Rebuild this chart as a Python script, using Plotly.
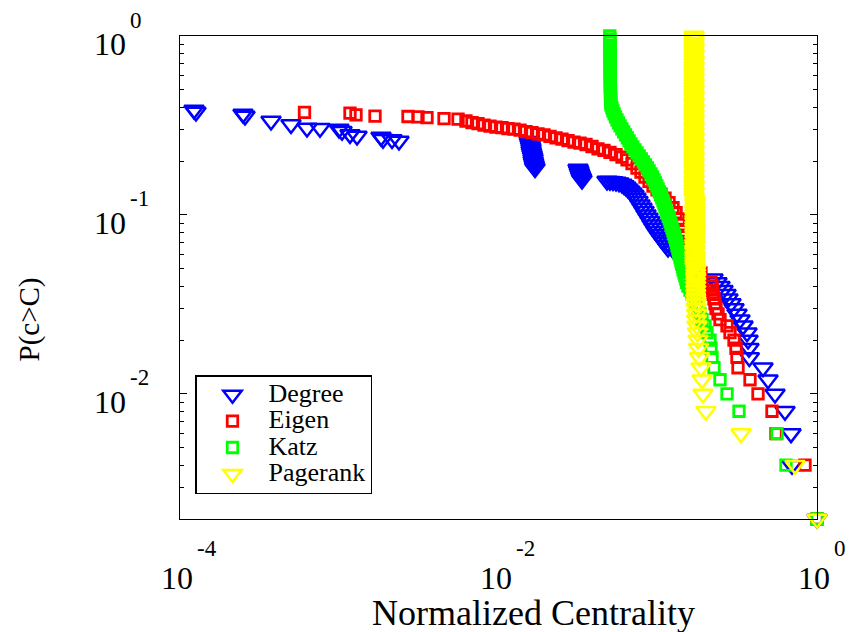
import math
import plotly.graph_objects as go

# ---------------- data ----------------
# Degree centrality CCDF
deg_x = [1.225e-4, 1.26e-4, 2.487e-4, 2.56e-4, 3.729e-4, 4.978e-4, 6.273e-4, 7.571e-4,
         9.96e-4, 1.041e-3, 1.168e-3, 1.293e-3, 1.829e-3, 1.883e-3, 2.144e-3, 2.372e-3,
         0.01555, 0.01566, 0.01578, 0.01589, 0.01601, 0.01601, 0.01612, 0.01624,
         0.01636, 0.01648, 0.01648, 0.01660, 0.01672, 0.01684, 0.01696,
         0.03157, 0.03189, 0.03217, 0.03250, 0.03283, 0.03312, 0.03345,
         0.04801, 0.05014, 0.05236, 0.05468, 0.05711, 0.05964, 0.06140, 0.06319,
         0.06504, 0.06695, 0.06892, 0.07094, 0.07302, 0.07516, 0.07737, 0.07964,
         0.08197, 0.08438, 0.08686, 0.08941, 0.09203, 0.09473, 0.09751, 0.1004,
         0.1033, 0.1063, 0.1095, 0.1127, 0.1160,
         0.1265, 0.1341, 0.1421, 0.1505, 0.1594, 0.1689,
         0.2223, 0.2355, 0.2460, 0.2569, 0.2683, 0.2761, 0.2884, 0.3012, 0.3146,
         0.3285, 0.3431, 0.3635, 0.369, 0.374, 0.376, 0.4582, 0.4926, 0.545,
         0.6295, 0.6866, 0.6966, 1.0]
deg_p = [0.386, 0.376, 0.367, 0.357, 0.335, 0.320, 0.306, 0.305,
         0.302, 0.294, 0.282, 0.276, 0.273, 0.265, 0.264, 0.259,
         0.2585, 0.2525, 0.2461, 0.2399, 0.2338, 0.2278, 0.2220, 0.2164,
         0.2109, 0.2055, 0.2003, 0.1952, 0.1903, 0.1854, 0.1819,
         0.1807, 0.1761, 0.1716, 0.1673, 0.1630, 0.1599, 0.1568,
         0.1548, 0.1544, 0.1538, 0.1529, 0.1515, 0.1490, 0.1462, 0.1433,
         0.1397, 0.1362, 0.1327, 0.1288, 0.1245, 0.1193, 0.1142, 0.1094,
         0.1048, 0.1004, 0.0962, 0.0922, 0.0883, 0.0846, 0.0811, 0.0780,
         0.0754, 0.0728, 0.0704, 0.0680, 0.0654,
         0.0631, 0.0607, 0.0584, 0.0555, 0.0527, 0.0500,
         0.044, 0.042, 0.040, 0.038, 0.036, 0.034, 0.032, 0.030, 0.028,
         0.026, 0.024, 0.022, 0.020, 0.018, 0.016, 0.014, 0.012, 0.010,
         0.008, 0.006, 0.004, 0.002]

# Eigenvector centrality CCDF
eig_x = [6.05e-4, 1.168e-3, 1.274e-3, 1.677e-3, 2.702e-3, 3.122e-3, 3.556e-3, 4.55e-3,
         5.57e-3, 6.25e-3,
         6.818e-3, 7.434e-3, 8.110e-3, 8.844e-3, 9.648e-3, 0.01052, 0.01147, 0.01251,
         0.01365, 0.01489, 0.01623, 0.01771, 0.01932, 0.02106, 0.02297, 0.02506,
         0.02732, 0.02980, 0.03250, 0.03545, 0.03865, 0.04215, 0.04598, 0.05014,
         0.05469, 0.05965, 0.06412, 0.06893, 0.07410, 0.07850, 0.08318, 0.08812,
         0.09338, 0.09894, 0.1048, 0.1111, 0.1177, 0.1247, 0.1303, 0.1360, 0.1400,
         0.1441, 0.1483,
         0.1549, 0.1594, 0.1641, 0.1714, 0.1789, 0.1869,
         0.2160, 0.2192, 0.2207, 0.2223, 0.2255, 0.2288, 0.2322, 0.2390, 0.2460,
         0.2722, 0.2842, 0.3012, 0.3100, 0.3145, 0.3191, 0.3796, 0.4261, 0.5216,
         0.5527, 0.8407, 1.0]
eig_p = [0.374, 0.371, 0.362, 0.357, 0.355, 0.353, 0.350, 0.345, 0.343, 0.335,
         0.3283, 0.324, 0.318, 0.3139, 0.3099, 0.3080, 0.3038, 0.3018, 0.298, 0.2923,
         0.2886, 0.2836, 0.280, 0.2746, 0.2694, 0.2654, 0.2603, 0.2553, 0.2521, 0.2476,
         0.2413, 0.2340, 0.2295, 0.2237, 0.2174, 0.2105, 0.203, 0.1937, 0.1826, 0.1735,
         0.1628, 0.1540, 0.1451, 0.138, 0.1307, 0.1242, 0.1172, 0.1097, 0.1029, 0.0950,
         0.0882, 0.0815, 0.0755,
         0.0690, 0.0639, 0.0591, 0.0548, 0.0507, 0.0475,
         0.042, 0.040, 0.038, 0.036, 0.034, 0.032, 0.030, 0.028, 0.026,
         0.024, 0.022, 0.020, 0.018, 0.016, 0.014, 0.012, 0.010, 0.008,
         0.006, 0.004, 0.002]

# Katz centrality CCDF
katz_x = [0.0500, 0.0500, 0.0501, 0.0501, 0.0501, 0.0502, 0.0502, 0.0502, 0.0502,
          0.0503, 0.0503, 0.0503, 0.0503, 0.0503, 0.0504, 0.0504, 0.0504, 0.0504,
          0.0505, 0.0505, 0.0505, 0.0506, 0.0507,
          0.05086, 0.05153, 0.05228, 0.05319, 0.05428, 0.05547, 0.05668, 0.05801,
          0.05955, 0.06111, 0.06271, 0.06436, 0.06605, 0.06778, 0.06977, 0.07193,
          0.07416, 0.07645, 0.07882, 0.08126, 0.08377, 0.08599, 0.08826, 0.09059,
          0.09286, 0.09477, 0.09672, 0.09871, 0.1006, 0.1024, 0.1042, 0.1060,
          0.1079, 0.1094, 0.1112, 0.1128, 0.1146, 0.1163, 0.1182, 0.1197, 0.1213,
          0.1229, 0.1245, 0.1261, 0.1278, 0.1295, 0.1310, 0.1323, 0.1339, 0.1352,
          0.1368, 0.1382, 0.1398, 0.1412, 0.1429, 0.1443, 0.1462, 0.1481, 0.1501,
          0.1515, 0.1548, 0.1594, 0.1641, 0.1689, 0.1739, 0.1789, 0.1842, 0.1896,
          0.1980, 0.2038, 0.2129, 0.2160, 0.2192, 0.2255, 0.2460, 0.2722, 0.3238,
          0.5608, 0.6385, 1.0]
katz_p = [1.0, 0.962, 0.926, 0.890, 0.856, 0.824, 0.792, 0.762, 0.734,
          0.706, 0.678, 0.654, 0.628, 0.604, 0.582, 0.560, 0.538, 0.518,
          0.498, 0.480, 0.462, 0.444, 0.426,
          0.4118, 0.3962, 0.3812, 0.3668, 0.3529, 0.3396, 0.3267, 0.3143,
          0.3024, 0.2910, 0.2800, 0.2694, 0.2592, 0.2494, 0.2399, 0.2308,
          0.2221, 0.2137, 0.2056, 0.1978, 0.1903, 0.1831, 0.1762, 0.1695,
          0.1631, 0.1569, 0.1510, 0.1453, 0.1398, 0.1345, 0.1294, 0.1245,
          0.1198, 0.1153, 0.1109, 0.1067, 0.1027, 0.0988, 0.0950, 0.0914, 0.0880,
          0.0846, 0.0814, 0.0784, 0.0754, 0.0725, 0.0698, 0.0672, 0.0646, 0.0622,
          0.0598, 0.0576, 0.0554, 0.0533, 0.0513, 0.0493, 0.0475, 0.0457, 0.0439,
          0.042, 0.040, 0.038, 0.036, 0.034, 0.032, 0.030, 0.028, 0.026,
          0.024, 0.022, 0.020, 0.018, 0.016, 0.014, 0.012, 0.010, 0.008,
          0.006, 0.004, 0.002]

# PageRank centrality CCDF
pr_x = ([0.169] * 55 + [0.171] * 23 + [0.173] * 9 +
        [0.1739, 0.1739, 0.1752, 0.1752, 0.1764, 0.1777, 0.1789, 0.1802, 0.1829,
         0.1869, 0.1896, 0.1923, 0.2008, 0.3333, 0.7276, 1.0])
pr_p = [1.0, 0.962, 0.926, 0.891, 0.857, 0.824, 0.793, 0.763, 0.734, 0.706,
        0.679, 0.654, 0.629, 0.605, 0.582, 0.560, 0.539, 0.518, 0.499, 0.480,
        0.461, 0.444, 0.427, 0.411, 0.395, 0.380, 0.366, 0.352, 0.339, 0.326,
        0.313, 0.302, 0.290, 0.279, 0.269, 0.258, 0.249, 0.239, 0.230, 0.221,
        0.213, 0.205, 0.197, 0.190, 0.183, 0.176, 0.169, 0.163, 0.156, 0.150,
        0.145, 0.139, 0.134, 0.129, 0.124, 0.119, 0.115, 0.110, 0.106, 0.102,
        0.098, 0.094, 0.091, 0.087, 0.084, 0.081, 0.078, 0.075, 0.072, 0.069,
        0.067, 0.064, 0.062, 0.059, 0.057, 0.055, 0.053, 0.051, 0.049, 0.047,
        0.045, 0.044, 0.042, 0.040, 0.038, 0.036, 0.034,
        0.032, 0.030, 0.028, 0.026, 0.024, 0.022, 0.020, 0.018, 0.016,
        0.014, 0.012, 0.010, 0.008, 0.006, 0.004, 0.002]

series_names = ["Degree", "Eigen", "Katz", "Pagerank"]

# axis ticks
xtick_vals = [1e-4, 1e-2, 1.0]
xtick_exp = ["-4", "-2", "0"]
ytick_vals = [1.0, 0.1, 0.01]
ytick_exp = ["0", "-1", "-2"]
y_minor = [0.003, 0.004, 0.005, 0.006, 0.007, 0.008, 0.009,
           0.02, 0.03, 0.04, 0.05, 0.06, 0.07, 0.08, 0.09,
           0.2, 0.3, 0.4, 0.5, 0.6, 0.7, 0.8, 0.9]
y_min = 0.002

# ---------------- figure ----------------
FONT = "Liberation Serif, Times New Roman, serif"
styles = [
    ("#0000ff", "triangle-down-open", 17, 2.5),
    ("#ff0000", "square-open", 10.5, 2.8),
    ("#00ff00", "square-open", 10.5, 2.8),
    ("#ffff00", "triangle-down-open", 17, 2.5),
]
data = [(deg_x, deg_p), (eig_x, eig_p), (katz_x, katz_p), (pr_x, pr_p)]

fig = go.Figure()
for name, (xs, ps), (col, sym, sz, lw) in zip(series_names, data, styles):
    fig.add_trace(go.Scatter(
        x=xs, y=ps, mode="markers", cliponaxis=False,
        name='<span style="font-size:26px">' + name + '</span>',
        marker=dict(symbol=sym, size=sz, color=col, line=dict(color=col, width=lw)),
    ))

annotations = []
for v, e in zip(xtick_vals, xtick_exp):
    annotations.append(dict(x=math.log10(v), xref="x", y=0, yref="paper", text="10",
                            showarrow=False, xanchor="center", yanchor="middle",
                            xshift=-3, yshift=-59, font=dict(size=32, family=FONT)))
    annotations.append(dict(x=math.log10(v), xref="x", y=0, yref="paper", text=e,
                            showarrow=False, xanchor="left", yanchor="middle",
                            xshift=15, yshift=-29, font=dict(size=23, family=FONT)))
for v, e in zip(ytick_vals, ytick_exp):
    annotations.append(dict(x=0, xref="paper", y=math.log10(v), yref="y", text="10",
                            showarrow=False, xanchor="right", yanchor="middle",
                            xshift=-52, yshift=-8, font=dict(size=32, family=FONT)))
    annotations.append(dict(x=0, xref="paper", y=math.log10(v), yref="y", text=e,
                            showarrow=False, xanchor="left", yanchor="middle",
                            xshift=-52, yshift=16, font=dict(size=23, family=FONT)))
annotations.append(dict(x=0.5, xref="paper", y=0, yref="paper", text="Normalized Centrality",
                        showarrow=False, xanchor="center", yanchor="middle",
                        xshift=35, yshift=-94, font=dict(size=36, family=FONT)))
annotations.append(dict(x=0, xref="paper", y=0.5, yref="paper", text="P(c>C)",
                        showarrow=False, xanchor="center", yanchor="middle", textangle=-90,
                        xshift=-151, yshift=-42, font=dict(size=29, family=FONT)))

fig.update_layout(
    width=857, height=632,
    margin=dict(l=180, r=40, t=36, b=113, pad=0),
    paper_bgcolor="white", plot_bgcolor="white",
    font=dict(family=FONT, color="black"),
    showlegend=True,
    legend=dict(x=15 / 637, y=144 / 483, xanchor="left", yanchor="top",
                bordercolor="black", borderwidth=1.5, bgcolor="white",
                font=dict(size=18, family=FONT), itemwidth=62, tracegroupgap=0),
    annotations=annotations,
    xaxis=dict(type="log", range=[-4, 0], showline=True, linecolor="black", linewidth=1.3,
               mirror=True, ticks="", showgrid=False, zeroline=False, showticklabels=False),
    yaxis=dict(type="log", range=[math.log10(y_min), 0], showline=True, linecolor="black",
               linewidth=1.3, mirror="ticks", ticks="inside", ticklen=7, tickwidth=1,
               tickcolor="black", tickmode="array", tickvals=ytick_vals,
               showticklabels=False, showgrid=False, zeroline=False,
               minor=dict(ticks="inside", ticklen=4, tickwidth=1, tickcolor="black",
                          tickmode="array", tickvals=y_minor, showgrid=False)),
)

fig.write_html("out.html")
